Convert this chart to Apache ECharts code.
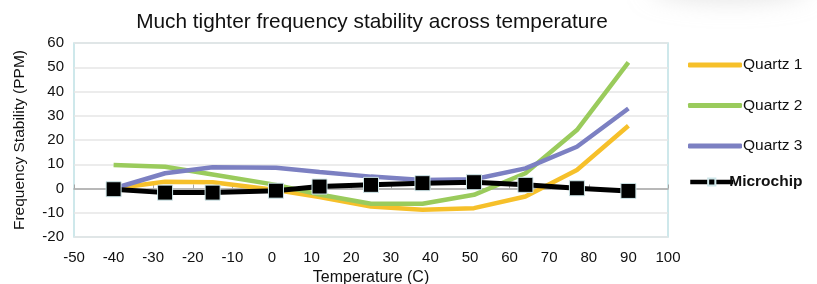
<!DOCTYPE html>
<html>
<head>
<meta charset="utf-8">
<script src="https://cdn.jsdelivr.net/npm/echarts@6/dist/echarts.min.js"></script>
<style>
  html, body { margin: 0; padding: 0; background: #fff; }
  #chart { width: 817px; height: 284px; }
</style>
</head>
<body>
<div id="chart"></div>
<script>
// temperatures (C) for each measured point
var temps = [-40, -27, -15, 1, 12, 25, 38, 51, 64, 77, 90];

// frequency deviation, PPM
var quartz1 = [0, 2.8, 2.6, -0.6, -3.5, -7.4, -8.8, -8.1, -3.3, 7.6, 25.9];
var quartz2 = [9.7, 9.0, 5.8, 1.5, -2.5, -6.3, -6.3, -2.6, 6.3, 24.1, 52];
var quartz3 = [0, 6.3, 8.8, 8.6, 6.8, 4.9, 3.5, 3.8, 8.3, 17.2, 33];
var microchip = [-0.3, -1.7, -1.7, -0.9, 0.8, 1.5, 2.2, 2.6, 1.5, 0.1, -1.0];

var names = ['Quartz 1', 'Quartz 2', 'Quartz 3', 'Microchip'];
var colors = ['#f6c02a', '#9acb5c', '#7c80c2', '#000000'];

function pairs(vals) {
    return temps.map(function (t, i) { return [t, vals[i]]; });
}

var chart = echarts.init(document.getElementById('chart'));

var quartzSeries = [quartz1, quartz2, quartz3].map(function (vals, i) {
    return {
        name: names[i],
        type: 'line',
        data: pairs(vals),
        showSymbol: false,
        symbol: 'none',
        lineStyle: { width: 4.5, color: colors[i] },
        itemStyle: { color: colors[i] },
        z: 3
    };
});

chart.setOption({
    animation: false,
    textStyle: { fontFamily: 'Liberation Sans, Arial, sans-serif' },
    graphic: [{
        // faint grey smudge in the top right corner of the slide
        type: 'ellipse',
        shape: { cx: 730, cy: -14, rx: 80, ry: 14 },
        style: { fill: '#d0d0d0', shadowBlur: 25, shadowColor: '#cfcfcf', opacity: 0.6 },
        silent: true,
        z: -1
    }],
    title: {
        text: 'Much tighter frequency stability across temperature',
        left: 367,
        textAlign: 'center',
        top: 7,
        textStyle: { fontSize: 20.8, fontWeight: 'normal', color: '#111' }
    },
    legend: [{
        orient: 'vertical',
        left: 683,
        top: 52,
        itemWidth: 54,
        itemHeight: 5,
        itemGap: 24.5,
        icon: 'roundRect',
        textStyle: { fontSize: 15.5, color: '#111', padding: [0, 0, 0, -4] },
        data: ['Quartz 1', 'Quartz 2', 'Quartz 3']
    }, {
        orient: 'vertical',
        left: 683,
        top: 169,
        itemWidth: 43,
        itemHeight: 9,
        lineStyle: { width: 4.5 },
        textStyle: { fontSize: 15.5, fontWeight: 'bold', color: '#111', padding: [0, 0, 4, -9] },
        data: ['Microchip']
    }],
    grid: {
        left: 74, right: 149, top: 43, bottom: 47,
        outerBoundsMode: 'none',
        show: true,
        borderColor: '#bfe1e5',
        borderWidth: 1.5,
        backgroundColor: '#fff'
    },
    xAxis: [{
        type: 'value',
        min: -50, max: 100, interval: 10,
        position: 'bottom',
        name: 'Temperature (C)',
        nameLocation: 'middle',
        nameGap: 32,
        nameTextStyle: { fontSize: 16, color: '#111' },
        axisLine: { show: false, onZero: false },
        axisTick: { show: false },
        splitLine: { show: false },
        axisLabel: { fontSize: 15, color: '#111', margin: 13 }
    }, {
        type: 'value',
        min: -50, max: 100, interval: 10,
        position: 'bottom',
        axisLine: { show: true, onZero: true, lineStyle: { color: '#a6a6a6', width: 1.5 } },
        axisTick: { show: true, inside: true, length: 4, lineStyle: { color: '#a6a6a6' } },
        axisLabel: { show: false },
        splitLine: { show: false }
    }],
    yAxis: {
        type: 'value',
        min: -20, max: 60, interval: 10,
        name: 'Frequency Stability (PPM)',
        nameLocation: 'middle',
        nameGap: 46,
        nameTextStyle: { fontSize: 15.5, color: '#111' },
        axisLine: { show: false },
        axisTick: { show: false },
        axisLabel: { fontSize: 15, color: '#111', margin: 10 },
        splitLine: { lineStyle: { color: '#e6e6e6', width: 1.5 } }
    },
    series: quartzSeries.concat([{
        name: 'Microchip',
        type: 'line',
        data: pairs(microchip),
        symbol: 'rect',
        symbolSize: 15,
        lineStyle: { width: 5, color: '#000' },
        itemStyle: { color: '#000', borderColor: '#cfe7ea', borderWidth: 1 },
        z: 5
    }])
});
</script>
</body>
</html>
